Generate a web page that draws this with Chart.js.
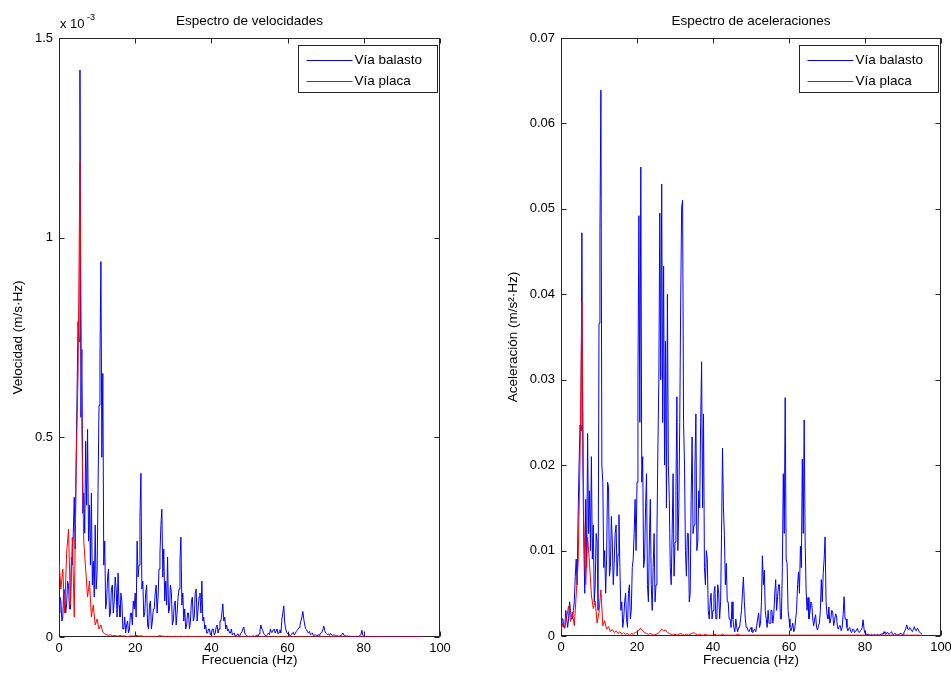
<!DOCTYPE html>
<html>
<head>
<meta charset="utf-8">
<script src="https://cdn.jsdelivr.net/npm/chart.js@4.4.0/dist/chart.umd.min.js"></script>
<style>
  body { margin: 0; background: #fff; }
  #velChart { position: absolute; left: 0; top: 0; }
  #accChart { position: absolute; left: 480px; top: 0; }
</style>
</head>
<body>
<canvas id="velChart" width="480" height="678"></canvas>
<canvas id="accChart" width="471" height="678"></canvas>
<script>
// ballast track spectra are read every 0.25 Hz, slab track every 0.5 Hz (0 to 95 Hz)
const stepBalasto = 0.25;
const stepPlaca = 0.5;

// velocity spectrum, in units of 1e-3 m/s·Hz
const velBalasto = [
  0.06, 0.1, 0.09, 0.04, 0.05, 0.12, 0.11, 0.06, 0.08, 0.14, 0.13, 0.07, 0.07, 0.2, 0.18, 0.26, 0.35, 0.22, 0.44, 0.62,
  0.79, 0.74, 1.42, 0.55, 0.72, 0.31, 0.36, 0.26, 0.49, 0.33, 0.52, 0.24, 0.33, 0.18, 0.36, 0.13, 0.19, 0.1, 0.28, 0.12,
  0.16, 0.37, 0.58, 0.70, 0.94, 0.45, 0.66, 0.18, 0.24, 0.07, 0.09, 0.15, 0.17, 0.05, 0.06, 0.12, 0.13, 0.06, 0.09, 0.15,
  0.12, 0.05, 0.16, 0.08, 0.05, 0.11, 0.09, 0.02, 0.02, 0.05, 0.01, 0.03, 0.04, 0.01, 0.02, 0.06, 0.06, 0.03, 0.09, 0.07,
  0.11, 0.05, 0.24, 0.15, 0.18, 0.30, 0.41, 0.12, 0.14, 0.05, 0.06, 0.11, 0.13, 0.03, 0.02, 0.08, 0.09, 0.02, 0.04, 0.07,
  0.07, 0.11, 0.13, 0.06, 0.10, 0.17, 0.21, 0.28, 0.32, 0.15, 0.22, 0.09, 0.14, 0.08, 0.20, 0.06, 0.07, 0.13, 0.11, 0.03,
  0.04, 0.08, 0.09, 0.03, 0.06, 0.10, 0.12, 0.19, 0.25, 0.08, 0.11, 0.04, 0.07, 0.02, 0.03, 0.06, 0.06, 0.02, 0.04, 0.09,
  0.10, 0.04, 0.05, 0.11, 0.12, 0.04, 0.07, 0.10, 0.11, 0.06, 0.14, 0.04, 0.05, 0.02, 0.03, 0.01, 0.01, 0.02, 0.02, 0.005,
  0.01, 0.02, 0.02, 0.005, 0.01, 0.025, 0.03, 0.01, 0.02, 0.04, 0.04, 0.06, 0.083, 0.04, 0.05, 0.02, 0.03, 0.015, 0.02, 0.01,
  0.01, 0.02, 0.005, 0.008, 0.01, 0.002, 0.003, 0.006, 0.008, 0.002, 0.004, 0.01, 0.012, 0.02, 0.025, 0.01, 0.006, 0.003, 0.002, 0.001,
  0.002, 0.001, 0.001, 0.002, 0.003, 0.001, 0.002, 0.004, 0.004, 0.002, 0.008, 0.018, 0.03, 0.02, 0.016, 0.008, 0.006, 0.002, 0.003, 0.006,
  0.01, 0.006, 0.02, 0.012, 0.012, 0.018, 0.02, 0.01, 0.015, 0.02, 0.008, 0.012, 0.018, 0.01, 0.045, 0.06, 0.078, 0.035, 0.02, 0.012,
  0.008, 0.01, 0.004, 0.003, 0.006, 0.01, 0.012, 0.005, 0.008, 0.014, 0.016, 0.02, 0.024, 0.03, 0.04, 0.05, 0.064, 0.045, 0.03, 0.02,
  0.018, 0.012, 0.01, 0.014, 0.006, 0.008, 0.01, 0.004, 0.004, 0.006, 0.003, 0.002, 0.006, 0.004, 0.008, 0.01, 0.012, 0.018, 0.027, 0.016,
  0.01, 0.008, 0.006, 0.008, 0.004, 0.009, 0.007, 0.004, 0.005, 0.006, 0.003, 0.002, 0.004, 0.002, 0.002, 0.003, 0.003, 0.006, 0.01, 0.005,
  0.004, 0.003, 0.002, 0.003, 0.001, 0.002, 0.002, 0.001, 0.001, 0.002, 0.001, 0.001, 0.002, 0.001, 0.001, 0.002, 0.002, 0.006, 0.017, 0.004,
  0.002, 0.0015, 0.001, 0.0012, 0.0015, 0.0009, 0.0008, 0.0006, 0.001, 0.0007, 0.0005, 0.0006, 0.0008, 0.0005, 0.0004, 0.0006, 0.0006, 0.0004, 0.0003, 0.0004,
  0.0005, 0.0004, 0.0003, 0.0005, 0.0006, 0.0003, 0.0004, 0.0005, 0.0003, 0.0004, 0.0005, 0.0003, 0.0002, 0.0003, 0.0004, 0.0003, 0.0003, 0.0002, 0.0002, 0.0003,
  0.0004, 0.0005, 0.0006, 0.0009, 0.0012, 0.0008, 0.0007, 0.0006, 0.0009, 0.0007, 0.0005, 0.0006, 0.0008, 0.0005, 0.0004, 0.0005, 0.0006, 0.0004, 0.0003, 0.0003,
  0.0003
];
const velPlaca = [
  0.19, 0.12, 0.17, 0.06, 0.21, 0.27, 0.08, 0.25, 0.05, 0.43,
  0.66, 1.19, 0.52, 0.24, 0.17, 0.10, 0.14, 0.05, 0.08, 0.03,
  0.045, 0.02, 0.03, 0.012, 0.008, 0.006, 0.004, 0.006, 0.003, 0.004,
  0.003, 0.002, 0.004, 0.002, 0.003, 0.002, 0.001, 0.002, 0.003, 0.002,
  0.003, 0.004, 0.002, 0.003, 0.002, 0.001, 0.002, 0.001, 0.002, 0.001,
  0.002, 0.001, 0.002, 0.003, 0.002, 0.002, 0.001, 0.002, 0.001, 0.001,
  0.001, 0.002, 0.001, 0.001, 0.002, 0.001, 0.001, 0.001, 0.002, 0.001,
  0.001, 0.0008, 0.001, 0.0006, 0.0008, 0.001, 0.0007, 0.0005, 0.0008, 0.0006,
  0.0007, 0.0005, 0.0008, 0.0006, 0.0005, 0.0007, 0.0006, 0.0005, 0.0006, 0.0005,
  0.0006, 0.0005, 0.0004, 0.0006, 0.0005, 0.0004, 0.0005, 0.0006, 0.0004, 0.0005,
  0.0005, 0.0004, 0.0005, 0.0004, 0.0003, 0.0005, 0.0004, 0.0003, 0.0004, 0.0005,
  0.0004, 0.0003, 0.0004, 0.0005, 0.0004, 0.0003, 0.0004, 0.0003, 0.0005, 0.0004,
  0.0003, 0.0004, 0.0003, 0.0004, 0.0005, 0.0003, 0.0004, 0.0003, 0.0004, 0.0003,
  0.0004, 0.0003, 0.0003, 0.0004, 0.0003, 0.0004, 0.0003, 0.0003, 0.0004, 0.0003,
  0.0003, 0.0004, 0.0003, 0.0003, 0.0004, 0.0003, 0.0003, 0.0004, 0.0003, 0.0003,
  0.0003, 0.0003, 0.0004, 0.0003, 0.0003, 0.0003, 0.0004, 0.0003, 0.0003, 0.0003,
  0.0003, 0.0003, 0.0003, 0.0004, 0.0003, 0.0003, 0.0003, 0.0003, 0.0004, 0.0003,
  0.0003, 0.0003, 0.0003, 0.0003, 0.0004, 0.0003, 0.0003, 0.0003, 0.0003, 0.0003,
  0.0003, 0.0004, 0.0003, 0.0003, 0.0003, 0.0003, 0.0003, 0.0004, 0.0003, 0.0003,
  0.0003
];

// acceleration spectrum, m/s²·Hz
const accBalasto = [
  0.001, 0.002, 0.002, 0.001, 0.001, 0.003, 0.002, 0.001, 0.002, 0.004, 0.003, 0.002, 0.002, 0.003, 0.004, 0.007, 0.009, 0.006, 0.014, 0.02,
  0.0247, 0.024, 0.0472, 0.02, 0.011, 0.005, 0.016, 0.008, 0.0237, 0.012, 0.017, 0.01, 0.021, 0.009, 0.013, 0.004, 0.006, 0.012, 0.011, 0.003,
  0.0366, 0.0473, 0.0639, 0.02, 0.018, 0.008, 0.01, 0.005, 0.009, 0.018, 0.0175, 0.007, 0.008, 0.014, 0.011, 0.006, 0.0085, 0.012, 0.013, 0.007,
  0.0095, 0.0142, 0.008, 0.003, 0.004, 0.001, 0.002, 0.004, 0.005, 0.002, 0.001, 0.005, 0.006, 0.002, 0.003, 0.008, 0.009, 0.012, 0.016, 0.01,
  0.018, 0.03, 0.0492, 0.025, 0.0549, 0.018, 0.021, 0.008, 0.009, 0.015, 0.019, 0.006, 0.004, 0.011, 0.016, 0.006, 0.003, 0.008, 0.012, 0.004,
  0.006, 0.012, 0.022, 0.03, 0.0495, 0.03, 0.0529, 0.025, 0.0433, 0.02, 0.0345, 0.015, 0.040, 0.02, 0.016, 0.008, 0.006, 0.012, 0.019, 0.007,
  0.011, 0.017, 0.028, 0.01, 0.015, 0.025, 0.0391, 0.0502, 0.051, 0.025, 0.02, 0.01, 0.007, 0.012, 0.012, 0.004, 0.005, 0.016, 0.0233, 0.012,
  0.013, 0.02, 0.026, 0.01, 0.011, 0.017, 0.015, 0.025, 0.0321, 0.015, 0.026, 0.008, 0.006, 0.01, 0.009, 0.003, 0.002, 0.004, 0.005, 0.002,
  0.003, 0.005, 0.0058, 0.002, 0.002, 0.006, 0.005, 0.002, 0.004, 0.012, 0.022, 0.015, 0.0118, 0.006, 0.0085, 0.004, 0.004, 0.002, 0.002, 0.001,
  0.004, 0.002, 0.001, 0.0005, 0.002, 0.001, 0.0005, 0.001, 0.001, 0.002, 0.003, 0.005, 0.0069, 0.004, 0.002, 0.001, 0.001, 0.0006, 0.0005, 0.0008,
  0.001, 0.0005, 0.0004, 0.0007, 0.0008, 0.0005, 0.0012, 0.002, 0.0027, 0.001, 0.0015, 0.004, 0.0094, 0.006, 0.0077, 0.003, 0.002, 0.001, 0.003, 0.0015,
  0.0015, 0.003, 0.003, 0.0015, 0.0025, 0.005, 0.0066, 0.003, 0.0046, 0.006, 0.006, 0.002, 0.002, 0.008, 0.019, 0.012, 0.0279, 0.009, 0.0085, 0.003,
  0.002, 0.001, 0.0006, 0.001, 0.0015, 0.0005, 0.0008, 0.002, 0.003, 0.006, 0.0075, 0.005, 0.0105, 0.008, 0.0207, 0.012, 0.0253, 0.011, 0.0054, 0.003,
  0.0045, 0.002, 0.0027, 0.004, 0.0038, 0.002, 0.0012, 0.002, 0.0025, 0.001, 0.0007, 0.0012, 0.0015, 0.003, 0.0066, 0.004, 0.0073, 0.009, 0.0116, 0.004,
  0.0025, 0.002, 0.0034, 0.0015, 0.002, 0.003, 0.0028, 0.0012, 0.0018, 0.0026, 0.0024, 0.001, 0.0008, 0.0012, 0.0012, 0.0006, 0.001, 0.0025, 0.0046, 0.002,
  0.002, 0.001, 0.0006, 0.0009, 0.001, 0.0005, 0.0004, 0.0008, 0.0008, 0.0004, 0.0005, 0.0007, 0.0009, 0.0005, 0.0004, 0.0006, 0.0007, 0.001, 0.0019, 0.0008,
  0.0003, 0.0002, 0.0001, 0.0002, 0.0002, 0.0001, 0.0001, 0.0002, 0.0001, 0.0001, 0.0002, 0.0001, 0.0001, 0.0002, 0.0001, 0.0001, 0.0002, 0.0002, 0.0003, 0.0002,
  0.0005, 0.0003, 0.0002, 0.0004, 0.0004, 0.0002, 0.0003, 0.0004, 0.0005, 0.0002, 0.0002, 0.0003, 0.0003, 0.0001, 0.0001, 0.0002, 0.0002, 0.0003, 0.0003, 0.0002,
  0.0002, 0.0004, 0.0006, 0.0009, 0.0013, 0.0008, 0.0007, 0.001, 0.0009, 0.0006, 0.0005, 0.0008, 0.0011, 0.0007, 0.0006, 0.0009, 0.0008, 0.0005, 0.0004, 0.0003,
  0.0003
];
const accPlaca = [
  0.0008, 0.0015, 0.0009, 0.0022, 0.0035, 0.0017, 0.0028, 0.0012, 0.0048, 0.0085,
  0.0204, 0.0391, 0.0135, 0.006, 0.0116, 0.0085, 0.0048, 0.0032, 0.0041, 0.0015,
  0.0028, 0.0054, 0.0012, 0.0018, 0.0008, 0.0011, 0.0005, 0.0008, 0.0004, 0.0006,
  0.0003, 0.0005, 0.0002, 0.0004, 0.0002, 0.0003, 0.0001, 0.0003, 0.0002, 0.0004,
  0.0005, 0.0007, 0.0009, 0.0006, 0.0004, 0.0003, 0.0002, 0.0003, 0.0002, 0.0001,
  0.0002, 0.0003, 0.0005, 0.0008, 0.0006, 0.0007, 0.0004, 0.0003, 0.0002, 0.0001,
  0.0002, 0.0001, 0.0002, 0.0003, 0.0002, 0.0001, 0.0002, 0.0001, 0.0002, 0.0003,
  0.0004, 0.0002, 0.0001, 0.0002, 0.0001, 0.0001, 0.0002, 0.0001, 0.0001, 0.0001,
  0.0001, 0.0002, 0.0001, 0.0001, 0.0001, 0.0002, 0.0001, 0.0001, 0.0001, 0.0001,
  0.0001, 0.0001, 0.0001, 0.0002, 0.0001, 0.0001, 0.0001, 0.0001, 0.0001, 0.0001,
  0.0001, 0.0001, 0.0001, 0.0001, 0.0001, 0.0001, 0.0001, 0.0001, 0.0001, 0.0001,
  0.0001, 0.0001, 0.0001, 0.0001, 0.0001, 0.0001, 0.0001, 0.0001, 0.0001, 0.0001,
  0.0001, 0.0001, 0.0001, 0.0001, 0.0001, 0.0001, 0.0001, 0.0001, 0.0001, 0.0001,
  0.0001, 0.0001, 0.0001, 0.0001, 0.0001, 0.0001, 0.0001, 0.0001, 0.0001, 0.0001,
  0.0001, 0.0001, 0.0001, 0.0001, 0.0001, 0.0001, 0.0001, 0.0001, 0.0001, 0.0001,
  0.0001, 0.0001, 0.0001, 0.0001, 0.0001, 0.0001, 0.0001, 0.0001, 0.0001, 0.0001,
  0.0001, 0.0001, 0.0001, 0.0001, 0.0001, 0.0001, 0.0001, 0.0001, 0.0001, 0.0001,
  0.0001, 0.0001, 0.0001, 0.0001, 0.0001, 0.0001, 0.0001, 0.0001, 0.0001, 0.0001,
  0.0001, 0.0001, 0.0001, 0.0001, 0.0001, 0.0001, 0.0001, 0.0001, 0.0001, 0.0001,
  0.0001
];

const seriesNames = ['Vía balasto', 'Vía placa'];
const seriesColors = ['#0000ff', '#ff0000'];
const xTicks = [0, 20, 40, 60, 80, 100];
const velTicks = [0, 0.5, 1, 1.5];
const accTicks = [0, 0.01, 0.02, 0.03, 0.04, 0.05, 0.06, 0.07];

const FONT = '"Liberation Sans", Arial, sans-serif';
const AXIS_COLOR = '#262626';

function toPoints(values, step) {
  return values.map((v, i) => ({ x: i * step, y: v }));
}

// MATLAB-like box, inward ticks, texts and legend
const matlabAxes = {
  id: 'matlabAxes',
  beforeDatasetsDraw(chart, args, o) {
    const { ctx, chartArea: a, scales } = chart;
    ctx.save();
    ctx.strokeStyle = AXIS_COLOR;
    ctx.lineWidth = 1;
    const L = Math.round(a.left) + 0.5, R = Math.round(a.right) - 0.5;
    const T = Math.round(a.top) + 0.5, B = Math.round(a.bottom) - 0.5;
    ctx.strokeRect(L, T, R - L, B - T);
    const tl = 5;
    ctx.beginPath();
    scales.x.ticks.forEach(t => {
      const x = Math.round(scales.x.getPixelForValue(t.value)) + 0.5;
      ctx.moveTo(x, B); ctx.lineTo(x, B - tl);
      ctx.moveTo(x, T); ctx.lineTo(x, T + tl);
    });
    scales.y.ticks.forEach(t => {
      const y = Math.round(scales.y.getPixelForValue(t.value)) + 0.5;
      ctx.moveTo(L, y); ctx.lineTo(L + tl, y);
      ctx.moveTo(R, y); ctx.lineTo(R - tl, y);
    });
    ctx.stroke();
    ctx.restore();
  },
  afterDraw(chart, args, o) {
    const { ctx, chartArea: a } = chart;
    const cx = (a.left + a.right) / 2;
    ctx.save();
    ctx.fillStyle = '#000';
    ctx.textAlign = 'center';
    ctx.textBaseline = 'middle';
    ctx.font = '13.5px ' + FONT;
    ctx.fillText(o.title, cx, 21);
    ctx.fillText('Frecuencia (Hz)', cx, 660);
    ctx.save();
    ctx.translate(o.ylabelX, (a.top + a.bottom) / 2);
    ctx.rotate(-Math.PI / 2);
    ctx.fillText(o.ylabel, 0, 0);
    ctx.restore();
    if (o.exponent) {
      ctx.textAlign = 'left';
      ctx.font = '13px ' + FONT;
      ctx.fillText('x 10', a.left + 1, 24);
      ctx.font = '9px ' + FONT;
      ctx.fillText(o.exponent, a.left + 28, 18);
    }
    // legend
    const bw = 139, bh = 47;
    const bx = Math.round(a.right) - 3 - bw + 0.5, by = Math.round(a.top) + 7 + 0.5;
    ctx.fillStyle = '#fff';
    ctx.fillRect(bx, by, bw, bh);
    ctx.strokeStyle = AXIS_COLOR;
    ctx.lineWidth = 1;
    ctx.strokeRect(bx, by, bw, bh);
    ctx.font = '13.5px ' + FONT;
    ctx.textAlign = 'left';
    seriesNames.forEach((name, i) => {
      const y = Math.round(by + 14 + i * 21) + 0.5;
      ctx.strokeStyle = seriesColors[i];
      ctx.beginPath();
      ctx.moveTo(bx + 8, y); ctx.lineTo(bx + 54, y);
      ctx.stroke();
      ctx.fillStyle = '#000';
      ctx.fillText(name, bx + 56, y);
    });
    ctx.restore();
  }
};

function makeChart(id, blue, red, yTicks, yMax, layout, deco) {
  return new Chart(document.getElementById(id), {
    type: 'line',
    data: {
      datasets: [
        { label: seriesNames[0], data: toPoints(blue, stepBalasto),
          borderColor: seriesColors[0], borderWidth: 1, pointRadius: 0, tension: 0, order: 2 },
        { label: seriesNames[1], data: toPoints(red, stepPlaca),
          borderColor: seriesColors[1], borderWidth: 1, pointRadius: 0, tension: 0, order: 1 }
      ]
    },
    options: {
      responsive: false,
      animation: false,
      events: [],
      layout: { padding: { top: 38, right: layout.right, bottom: 0, left: 0 } },
      plugins: {
        legend: { display: false },
        tooltip: { enabled: false },
        matlabAxes: deco
      },
      scales: {
        x: {
          type: 'linear', min: 0, max: 100,
          grid: { display: false, drawTicks: false },
          border: { display: false },
          ticks: { color: '#000', font: { family: FONT, size: 13 }, padding: 4, maxRotation: 0, autoSkip: false },
          afterBuildTicks: s => { s.ticks = xTicks.map(v => ({ value: v })); },
          afterFit: s => { s.height = layout.xh; s.paddingLeft = 0; s.paddingRight = 0; }
        },
        y: {
          type: 'linear', min: 0, max: yMax,
          grid: { display: false, drawTicks: false },
          border: { display: false },
          ticks: { color: '#000', font: { family: FONT, size: 13 }, padding: 6, autoSkip: false,
                   callback: v => String(v) },
          afterBuildTicks: s => { s.ticks = yTicks.map(v => ({ value: v })); },
          afterFit: s => { s.width = layout.yw; s.paddingTop = 0; s.paddingBottom = 0; }
        }
      }
    },
    plugins: [matlabAxes]
  });
}

makeChart('velChart', velBalasto, velPlaca, velTicks, 1.5,
  { right: 40, xh: 41, yw: 59 },
  { title: 'Espectro de velocidades', ylabel: 'Velocidad (m/s·Hz)', ylabelX: 18, exponent: '-3' });

makeChart('accChart', accBalasto, accPlaca, accTicks, 0.07,
  { right: 10, xh: 42, yw: 81 },
  { title: 'Espectro de aceleraciones', ylabel: 'Aceleración (m/s²·Hz)', ylabelX: 33, exponent: null });
</script>
</body>
</html>
